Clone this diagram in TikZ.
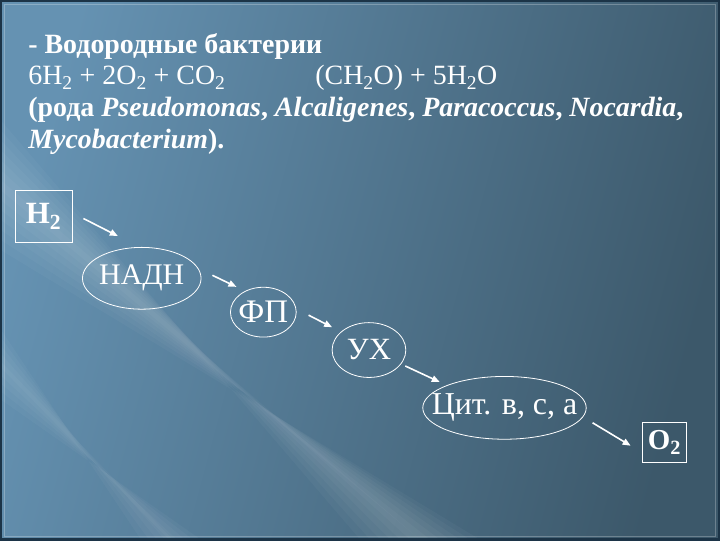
\documentclass[tikz,border=0pt]{standalone}
\usepackage{fontspec}
\setmainfont{Liberation Serif}
\usetikzlibrary{shapes.geometric,arrows.meta}
\definecolor{bglight}{HTML}{6592B2}
\definecolor{bgdark}{HTML}{3C586A}
\definecolor{edge}{HTML}{1C3447}
\tikzset{
  oval/.style={draw=white,line width=0.8pt,ellipse,inner sep=0pt},
  boxed/.style={draw=white,line width=0.9pt,inner sep=0pt},
  arr/.style={white,line width=1.6pt,-{Triangle[length=8pt,width=6.5pt]}},
  line/.style={anchor=base west,inner sep=0pt},
}
\newcommand{\nowidth}[1]{\makebox[0pt]{#1}}
\begin{document}
\begin{tikzpicture}[x=1pt,y=-1pt,text=white]
% background
\shade[top color=bglight,bottom color=bgdark,shading angle=75] (0,0) rectangle (720,540);
\foreach \w in {0,10,...,60}
  \fill[white,opacity=0.03] (0,{120+\w}) -- (0,{250-\w}) -- ({480-\w},540) -- ({360+\w},540) -- cycle;
\foreach \w in {0,8,...,32}
  \fill[white,opacity=0.03] (0,{330+\w}) -- (0,{400-\w}) -- ({200-\w},540) -- ({140+\w},540) -- cycle;
\draw[edge,line width=2.5pt] (0,0) rectangle (720,540);
\draw[white,opacity=0.25,line width=0.6pt] (3,3) rectangle (717,537);
% text
\node[line] (t1) at (27,52) {\fontsize{28}{30}\selectfont\bfseries - Водородные бактерии};
\node[line] (t2) at (27,84) {\fontsize{28}{30}\selectfont 6H\textsubscript{2} + 2O\textsubscript{2} + CO\textsubscript{2}};
\node[line] (t2b) at (315,84) {\fontsize{28}{30}\selectfont (CH\textsubscript{2}O) + 5H\textsubscript{2}O};
\node[line] (t3) at (27,116) {\fontsize{28}{30}\selectfont\bfseries (рода \textit{Pseudomonas}, \textit{Alcaligenes}, \textit{Paracoccus}, \textit{Nocardia},};
\node[line] (t4) at (27,148) {\fontsize{28}{30}\selectfont\bfseries\textit{Mycobacterium}).};
% chain
\node[boxed,minimum width=57pt,minimum height=52pt] (h2) at (42.5,216) {\fontsize{31}{32}\selectfont\bfseries H\textsubscript{2}};
\node[oval,minimum width=119pt,minimum height=62pt] (nadh) at (141,278) {\fontsize{30}{32}\selectfont\nowidth{НАДН}};
\node[oval,minimum width=66pt,minimum height=50pt] (fp) at (263,312) {\fontsize{33}{34}\selectfont\nowidth{ФП}};
\node[oval,minimum width=74pt,minimum height=55pt] (ux) at (369,350) {\fontsize{31}{32}\selectfont\nowidth{УХ}};
\node[oval,minimum width=164pt,minimum height=63pt] (cit) at (505,408) {\fontsize{32}{32}\selectfont\nowidth{Цит. в, с, а}};
\node[boxed,minimum width=45pt,minimum height=40pt] (o2) at (665.5,443) {\fontsize{29}{32}\selectfont\bfseries O\textsubscript{2}};
\draw[arr] ([shift={(11,2)}]h2.east) -- ([shift={(-24,-11)}]nadh.north);
\draw[arr] ([shift={(11,-3)}]nadh.east) -- ([shift={(-27,0)}]fp.north);
\draw[arr] ([shift={(12,3)}]fp.east) -- ([shift={(-37,5)}]ux.north);
\draw[arr] ([shift={(-1,16)}]ux.east) -- ([shift={(-65,6)}]cit.north);
\draw[arr] ([shift={(6,15)}]cit.east) -- ([shift={(-11,3)}]o2.west);
\end{tikzpicture}
\end{document}
